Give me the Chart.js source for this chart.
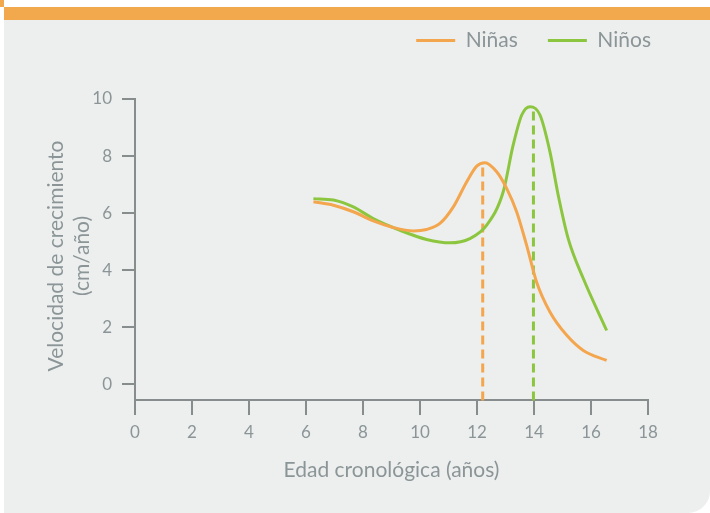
<!DOCTYPE html>
<html lang="es">
<head>
    <meta charset="UTF-8">
    <title>Velocidad de crecimiento</title>
    <script src="https://cdn.jsdelivr.net/npm/chart.js"></script>
    <style>
        body {
            margin: 0;
            background: #ffffff;
            font-family: Lato, "Open Sans", sans-serif;
        }
        .corner {
            position: absolute;
            left: 0;
            top: 0;
            width: 4px;
            height: 7px;
            background: #f2a84c;
        }
        .panel {
            position: absolute;
            left: 4px;
            top: 7px;
            width: 706px;
            height: 493px;
            background: #edefee;
            border-top: 13px solid #f2a84c;
            border-bottom-right-radius: 22px;
        }
        #chart {
            position: absolute;
            left: 0;
            top: 0;
        }
    </style>
</head>
<body>

<div class="corner"></div>
<div class="panel"></div>
<canvas id="chart" width="710" height="513"></canvas>

<script>
    // valores
    const ninasEdad = [6.26, 6.96, 7.66, 8.36, 9.06, 9.77, 10.23, 10.7, 11.17, 11.64, 11.99, 12.28, 12.69, 13.04, 13.39, 13.74, 14.09, 14.56, 15.15, 15.73, 16.55];
    const ninasVel  = [6.4, 6.28, 6.05, 5.73, 5.5, 5.38, 5.43, 5.64, 6.22, 7.1, 7.65, 7.77, 7.45, 6.87, 6.05, 4.88, 3.59, 2.54, 1.72, 1.19, 0.84];

    const ninosEdad = [6.26, 6.96, 7.66, 8.36, 9.3, 10.23, 11.05, 11.75, 12.34, 12.92, 13.27, 13.57, 13.86, 14.21, 14.56, 14.85, 15.2, 15.73, 16.55];
    const ninosVel  = [6.51, 6.46, 6.22, 5.81, 5.4, 5.08, 4.96, 5.11, 5.58, 6.75, 8.39, 9.44, 9.73, 9.44, 8.15, 6.63, 5.11, 3.71, 1.89];

    const picoNinas = 12.2;
    const picoNinos = 13.98;

    const xTicks = [0, 2, 4, 6, 8, 10, 12, 14, 16, 18];
    const yTicks = [0, 2, 4, 6, 8, 10];
    const ejeX = -0.56; // valor de y donde cruza el eje horizontal

    const gris = '#8b9597';
    const grisEje = '#878c8d';
    const naranja = '#f4a64f';
    const verde = '#8cc63f';
    const fuente = 'Lato, "Open Sans", sans-serif';

    const toPoints = (xs, ys) => xs.map((x, i) => ({ x: x, y: ys[i] }));

    const ctx = document.getElementById('chart').getContext('2d');

    new Chart(ctx, {
        type: 'line',
        data: {
            datasets: [
                {
                    label: 'Niñas',
                    data: toPoints(ninasEdad, ninasVel),
                    borderColor: naranja,
                    backgroundColor: naranja,
                    borderWidth: 3,
                    pointRadius: 0,
                    cubicInterpolationMode: 'monotone'
                },
                {
                    label: 'Niños',
                    data: toPoints(ninosEdad, ninosVel),
                    borderColor: verde,
                    backgroundColor: verde,
                    borderWidth: 3,
                    pointRadius: 0,
                    cubicInterpolationMode: 'monotone'
                },
                {
                    label: 'pico niñas',
                    data: [{ x: picoNinas, y: ejeX }, { x: picoNinas, y: Math.max(...ninasVel) }],
                    borderColor: naranja,
                    borderWidth: 3,
                    borderDash: [9, 5],
                    pointRadius: 0
                },
                {
                    label: 'pico niños',
                    data: [{ x: picoNinos, y: ejeX }, { x: picoNinos, y: Math.max(...ninosVel) }],
                    borderColor: verde,
                    borderWidth: 3,
                    borderDash: [9, 5],
                    pointRadius: 0
                }
            ]
        },
        options: {
            responsive: false,
            animation: false,
            layout: {
                padding: { left: 0, right: 29, top: 0, bottom: 100 }
            },
            plugins: {
                tooltip: { enabled: false },
                legend: {
                    position: 'top',
                    align: 'end',
                    labels: {
                        boxWidth: 39,
                        boxHeight: 3,
                        padding: 30,
                        color: gris,
                        font: { family: fuente, size: 21 },
                        generateLabels: (chart) => Chart.defaults.plugins.legend.labels.generateLabels(chart)
                            .filter(l => l.datasetIndex < 2)
                            .map(l => ({ ...l, fillStyle: l.strokeStyle, lineWidth: 0 }))
                    }
                }
            },
            scales: {
                x: {
                    type: 'linear',
                    min: 0,
                    max: 18,
                    position: { y: ejeX },
                    afterBuildTicks: (s) => { s.ticks = xTicks.map(v => ({ value: v })); },
                    afterFit: (s) => { s.height = 100; },
                    grid: {
                        drawOnChartArea: false,
                        drawTicks: true,
                        tickLength: 14,
                        color: grisEje,
                        lineWidth: 2
                    },
                    border: { color: grisEje, width: 2 },
                    ticks: {
                        padding: 8,
                        color: gris,
                        font: { family: fuente, size: 17 }
                    },
                    title: {
                        display: true,
                        text: 'Edad cronológica (años)',
                        color: gris,
                        padding: { top: 0, bottom: 18 },
                        font: { family: fuente, size: 21 }
                    }
                },
                y: {
                    type: 'linear',
                    min: -1,
                    max: 10,
                    position: 'left',
                    afterBuildTicks: (s) => { s.ticks = yTicks.map(v => ({ value: v })); },
                    afterFit: (s) => { s.width = 135; },
                    grid: {
                        drawOnChartArea: false,
                        drawTicks: true,
                        tickLength: 13,
                        color: grisEje,
                        lineWidth: 2
                    },
                    border: { color: grisEje, width: 2 },
                    ticks: {
                        padding: 10,
                        color: gris,
                        font: { family: fuente, size: 17 }
                    },
                    title: {
                        display: true,
                        text: ['Velocidad de crecimiento', '(cm/año)'],
                        color: gris,
                        padding: { top: 44, bottom: 0 },
                        font: { family: fuente, size: 21, lineHeight: 1.2 }
                    }
                },
                // ejes vacíos solo para dejar el espacio del original
                espacioArriba: {
                    type: 'linear',
                    position: 'top',
                    display: true,
                    grid: { display: false },
                    border: { display: false },
                    ticks: { display: false },
                    afterFit: (s) => { s.height = 38; }
                },
                espacioDerecha: {
                    type: 'linear',
                    position: 'right',
                    display: true,
                    grid: { display: false },
                    border: { display: false },
                    ticks: { display: false },
                    afterFit: (s) => { s.width = 33; }
                }
            }
        }
    });
</script>

</body>
</html>
